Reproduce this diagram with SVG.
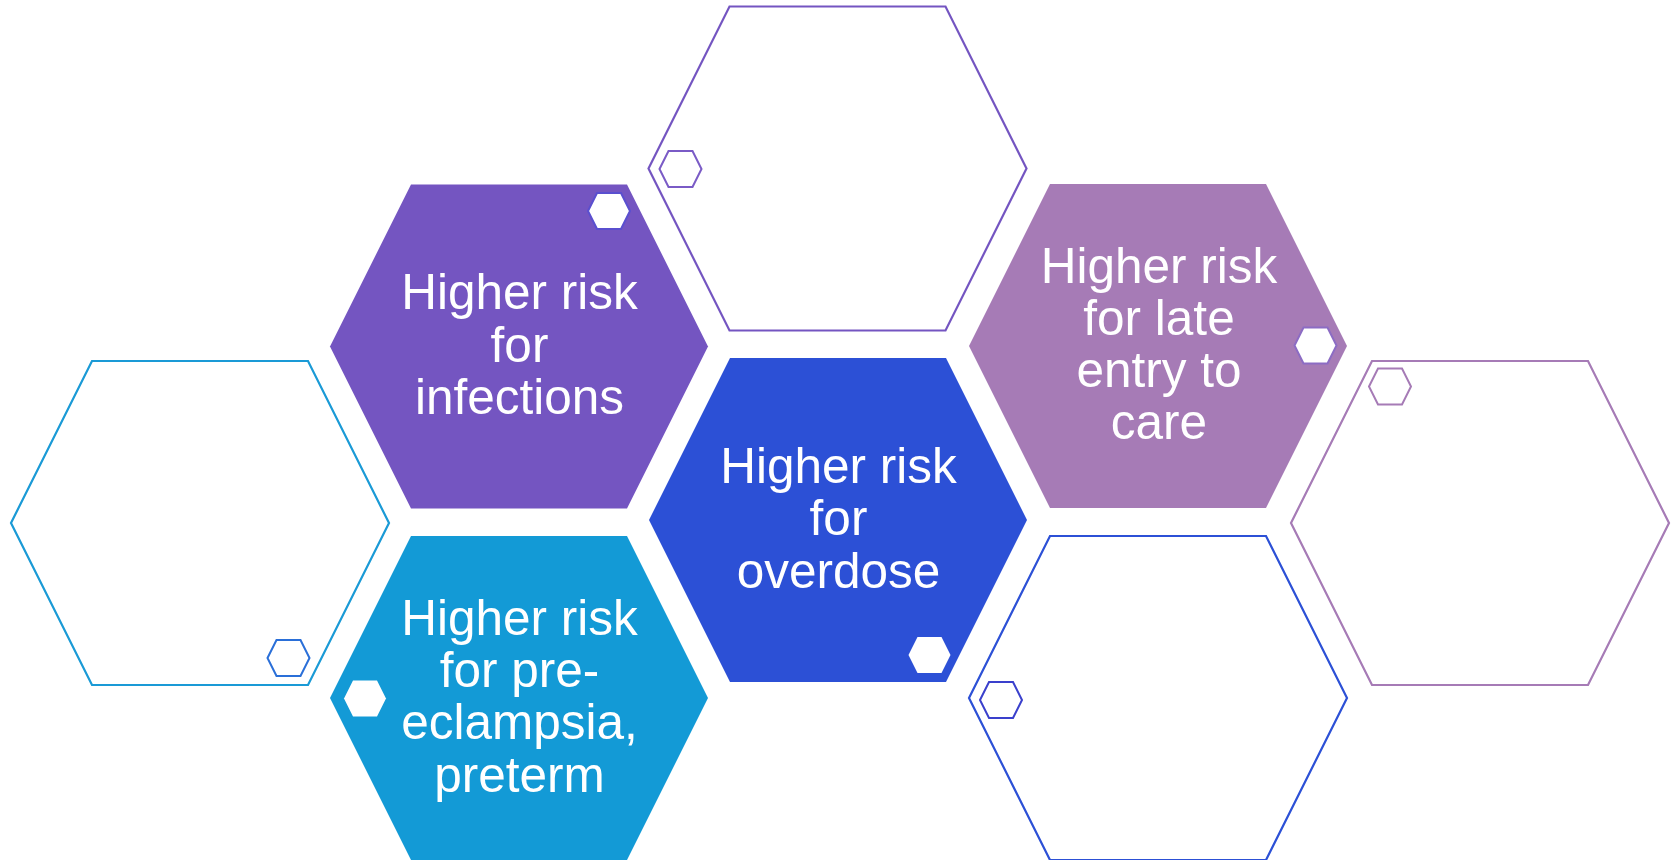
<svg xmlns="http://www.w3.org/2000/svg" xmlns:xlink="http://www.w3.org/1999/xlink" width="1675" height="860" viewBox="0 0 1675 860">
  <style>
    .label { font-family: "Liberation Sans", Arial, sans-serif; font-size: 49.5px; fill: #ffffff; text-anchor: middle; }
    .purple { fill: #7455C1; }
    .blue { fill: #2C50D6; }
    .mauve { fill: #A67BB6; }
    .cyan { fill: #139AD6; }
    .ol { fill: #ffffff; stroke-width: 2.2; }
    .ol-purple { stroke: #7455C1; }
    .ol-blue { stroke: #2C50D6; }
    .ol-mauve { stroke: #A67BB6; }
    .ol-cyan { stroke: #1A9AD6; }
    .mini { fill: #ffffff; stroke-width: 2; }
  </style>
  <defs>
    <polygon id="hex" points="-189,0 -108,-162 108,-162 189,0 108,162 -108,162"/>
    <polygon id="mini" points="-21,0 -12,-18 12,-18 21,0 12,18 -12,18"/>
  </defs>
  <rect width="1675" height="860" fill="#ffffff"/>

  <!-- outlined cells -->
  <g id="cell-left">
    <use xlink:href="#hex" href="#hex" x="200" y="523" class="ol ol-cyan"/>
    <use xlink:href="#mini" href="#mini" x="288.5" y="658" class="mini" stroke="#2A6FD8"/>
  </g>
  <g id="cell-top">
    <use xlink:href="#hex" href="#hex" x="837.5" y="168.5" class="ol ol-purple"/>
    <use xlink:href="#mini" href="#mini" x="680.5" y="169" class="mini" stroke="#7A5BC6"/>
  </g>
  <g id="cell-bottom">
    <use xlink:href="#hex" href="#hex" x="1158" y="698" class="ol ol-blue"/>
    <use xlink:href="#mini" href="#mini" x="1001" y="700" class="mini" stroke="#3A40CC"/>
  </g>
  <g id="cell-right">
    <use xlink:href="#hex" href="#hex" x="1480" y="523" class="ol ol-mauve"/>
    <use xlink:href="#mini" href="#mini" x="1390" y="386.5" class="mini" stroke="#A67BB6"/>
  </g>

  <!-- filled cells with labels -->
  <g id="infections">
    <use xlink:href="#hex" href="#hex" x="519" y="346.5" class="purple"/>
    <use xlink:href="#mini" href="#mini" x="609" y="211" class="mini" stroke="#5A4FCF" stroke-width="1.5"/>
    <text class="label" x="519.5"><tspan x="519.5" y="309.3">Higher risk</tspan><tspan x="519.5" y="361.7">for</tspan><tspan x="519.5" y="414.3">infections</tspan></text>
  </g>
  <g id="overdose">
    <use xlink:href="#hex" href="#hex" x="838" y="520" class="blue"/>
    <use xlink:href="#mini" href="#mini" x="929.5" y="655" fill="#ffffff"/>
    <text class="label"><tspan x="838.5" y="483.3">Higher risk</tspan><tspan x="838.5" y="535">for</tspan><tspan x="838.5" y="587.7">overdose</tspan></text>
  </g>
  <g id="late-entry">
    <use xlink:href="#hex" href="#hex" x="1158" y="346" class="mauve"/>
    <use xlink:href="#mini" href="#mini" x="1315.5" y="345.5" class="mini" stroke="#8C6CC4" stroke-width="1.5"/>
    <text class="label"><tspan x="1159" y="282.7">Higher risk</tspan><tspan x="1159" y="335">for late</tspan><tspan x="1159" y="386.7">entry to</tspan><tspan x="1159" y="439.3">care</tspan></text>
  </g>
  <g id="preterm">
    <use xlink:href="#hex" href="#hex" x="519" y="698" class="cyan"/>
    <use xlink:href="#mini" href="#mini" x="365" y="698.5" fill="#ffffff"/>
    <text class="label"><tspan x="519.5" y="635">Higher risk</tspan><tspan x="519.5" y="686.7">for pre-</tspan><tspan x="519.5" y="739.3">eclampsia,</tspan><tspan x="519.5" y="791.7">preterm</tspan></text>
  </g>
</svg>
